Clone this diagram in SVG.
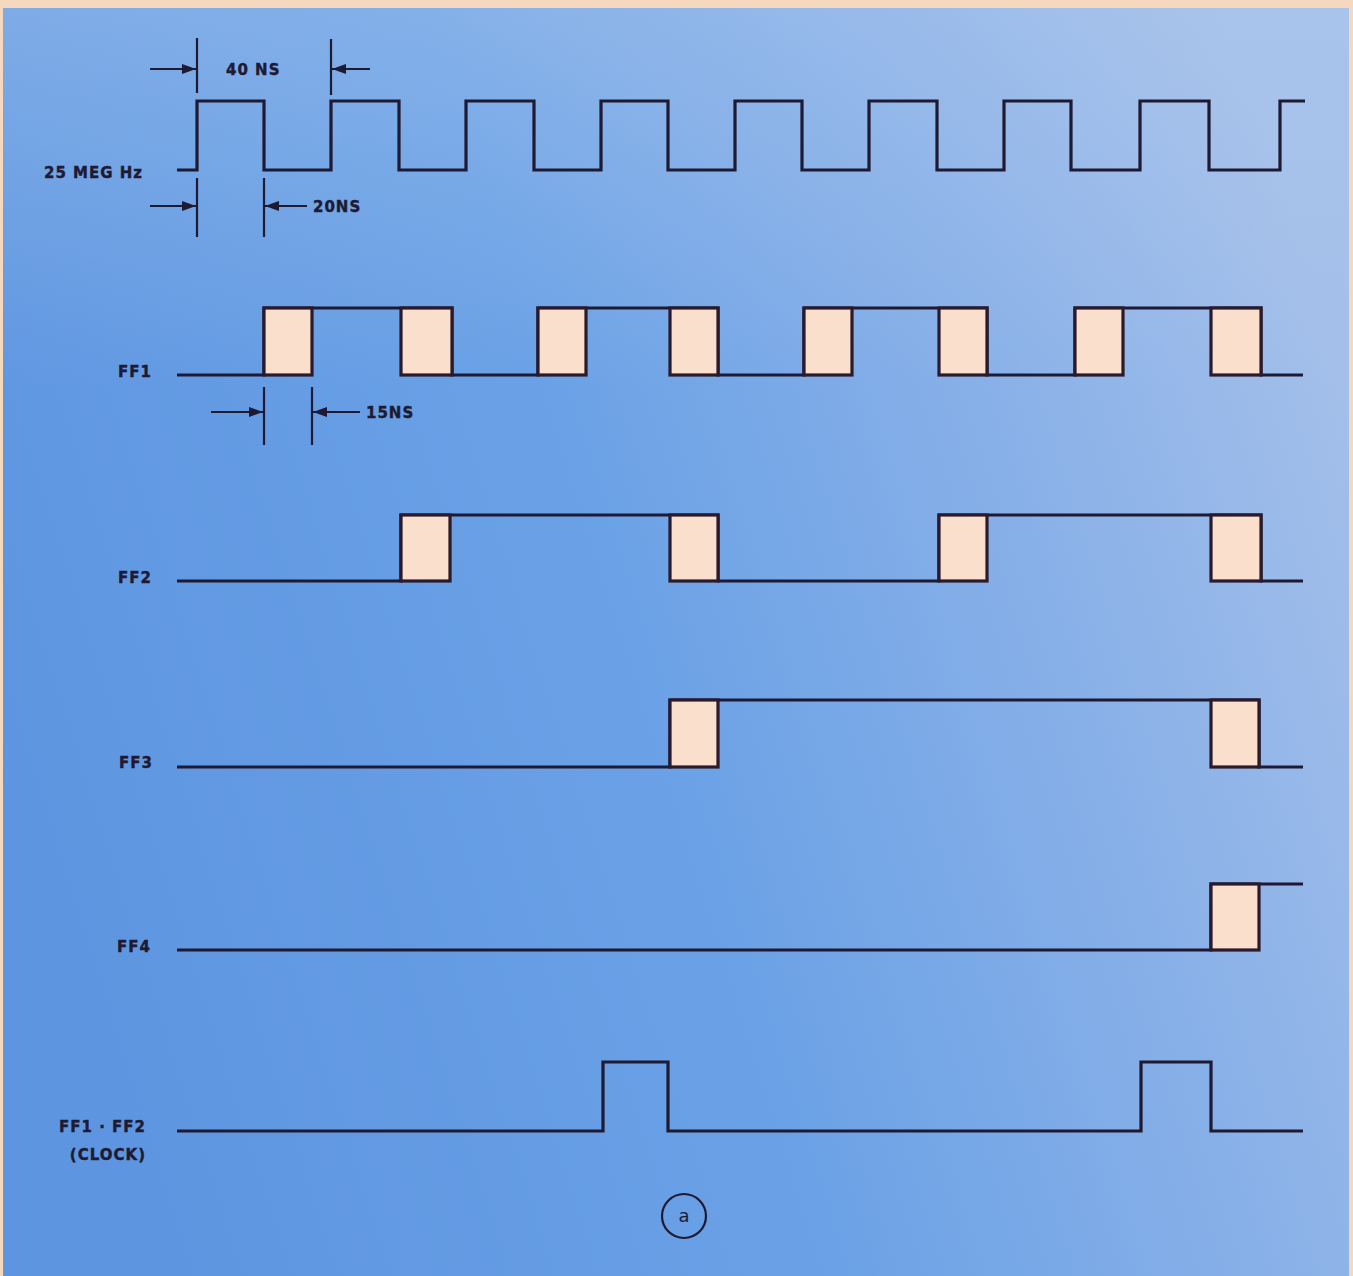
<svg xmlns="http://www.w3.org/2000/svg" width="1353" height="1276" viewBox="0 0 1353 1276">
<defs>
<linearGradient id="bg" x1="0" y1="0.6" x2="1" y2="0.3">
<stop offset="0" stop-color="#5d95e0"/>
<stop offset="0.45" stop-color="#6aa1e6"/>
<stop offset="0.75" stop-color="#88b0e8"/>
<stop offset="1" stop-color="#a3bfea"/>
</linearGradient>
<linearGradient id="topglow" x1="0" y1="0" x2="0" y2="1">
<stop offset="0" stop-color="#b4cdee" stop-opacity="0.35"/>
<stop offset="0.3" stop-color="#b4cdee" stop-opacity="0"/>
</linearGradient>
<marker id="ah" viewBox="0 0 14 10" refX="14" refY="5" markerWidth="14" markerHeight="10" markerUnits="userSpaceOnUse" orient="auto">
<path d="M0,0 L14,5 L0,10 Z" fill="#1f1a33"/>
</marker>
<style>
.w{fill:none;stroke:#1f1a33;stroke-width:3.2;stroke-linejoin:miter}
.box{fill:#f9dfcc;stroke:#2a1a2c;stroke-width:3.2}
.dim{fill:none;stroke:#1f1a33;stroke-width:2.2}
.arr{fill:none;stroke:#1f1a33;stroke-width:2.2;marker-end:url(#ah)}
.lbl{font-family:"DejaVu Sans","Liberation Sans",sans-serif;font-weight:bold;font-size:15px;fill:#1f1a33;stroke:#1f1a33;stroke-width:0.4;letter-spacing:1px}
</style>
</defs>
<rect x="0" y="0" width="1353" height="1276" fill="#f6d8bf"/>
<rect x="3" y="8" width="1346" height="1268" fill="url(#bg)"/>
<rect x="3" y="8" width="1346" height="1268" fill="url(#topglow)"/>

<g id="clock">
<path class="w" d="M177,170 H197 V101 H264 V170 H331 V101 H399 V170 H466 V101 H534 V170 H601 V101 H668 V170 H735 V101 H802 V170 H869 V101 H937 V170 H1004 V101 H1071 V170 H1140 V101 H1209 V170 H1280 V101 H1305"/>
<text class="lbl" x="44" y="178" letter-spacing="1.9">25 MEG Hz</text>
</g>

<g id="dim40">
<line class="dim" x1="197" y1="38" x2="197" y2="93"/>
<line class="dim" x1="331" y1="39" x2="331" y2="95"/>
<line class="arr" x1="150" y1="69" x2="196" y2="69"/>
<line class="arr" x1="370" y1="69" x2="332" y2="69"/>
<text class="lbl" x="226" y="75" letter-spacing="1.5">40 NS</text>
</g>

<g id="dim20">
<line class="dim" x1="197" y1="178" x2="197" y2="237"/>
<line class="dim" x1="264" y1="178" x2="264" y2="237"/>
<line class="arr" x1="150" y1="206" x2="196" y2="206"/>
<line class="arr" x1="307" y1="206" x2="265" y2="206"/>
<text class="lbl" x="313" y="212" letter-spacing="0.3">20NS</text>
</g>

<g id="ff1">
<path class="w" d="M177,375 H264 V308 H452 V375 H538 V308 H718 V375 H804 V308 H987 V375 H1075 V308 H1261 V375 H1303"/>
<rect class="box" x="264" y="308" width="48" height="67"/>
<rect class="box" x="401" y="308" width="51" height="67"/>
<rect class="box" x="538" y="308" width="48" height="67"/>
<rect class="box" x="670" y="308" width="48" height="67"/>
<rect class="box" x="804" y="308" width="48" height="67"/>
<rect class="box" x="939" y="308" width="48" height="67"/>
<rect class="box" x="1075" y="308" width="48" height="67"/>
<rect class="box" x="1211" y="308" width="50" height="67"/>
<text class="lbl" x="152" y="377" text-anchor="end">FF1</text>
</g>

<g id="dim15">
<line class="dim" x1="264" y1="387" x2="264" y2="445"/>
<line class="dim" x1="312" y1="387" x2="312" y2="445"/>
<line class="arr" x1="211" y1="412" x2="263" y2="412"/>
<line class="arr" x1="360" y1="412" x2="313" y2="412"/>
<text class="lbl" x="366" y="418" letter-spacing="0">15NS</text>
</g>

<g id="ff2">
<path class="w" d="M177,581 H401 V515 H718 V581 H939 V515 H1261 V581 H1303"/>
<rect class="box" x="401" y="515" width="49" height="66"/>
<rect class="box" x="670" y="515" width="48" height="66"/>
<rect class="box" x="939" y="515" width="48" height="66"/>
<rect class="box" x="1211" y="515" width="50" height="66"/>
<text class="lbl" x="152" y="583" text-anchor="end">FF2</text>
</g>

<g id="ff3">
<path class="w" d="M177,767 H670 V700 H1259 V767 H1303"/>
<rect class="box" x="670" y="700" width="48" height="67"/>
<rect class="box" x="1211" y="700" width="48" height="67"/>
<text class="lbl" x="153" y="768" text-anchor="end">FF3</text>
</g>

<g id="ff4">
<path class="w" d="M177,950 H1211 V884 H1303"/>
<rect class="box" x="1211" y="884" width="48" height="66"/>
<text class="lbl" x="151" y="952" text-anchor="end">FF4</text>
</g>

<g id="ff1ff2">
<path class="w" d="M177,1131 H603 V1062 H668 V1131 H1141 V1062 H1211 V1131 H1303"/>
<text class="lbl" x="146" y="1132" text-anchor="end" letter-spacing="0.6">FF1 · FF2</text>
<text class="lbl" x="146" y="1160" text-anchor="end" letter-spacing="0.6">(CLOCK)</text>
</g>

<g id="caption">
<circle cx="684" cy="1216" r="22" fill="none" stroke="#1f1a33" stroke-width="2.2"/>
<text x="684" y="1222" text-anchor="middle" font-family="DejaVu Sans, sans-serif" font-size="18" fill="#1f1a33">a</text>
</g>
</svg>
